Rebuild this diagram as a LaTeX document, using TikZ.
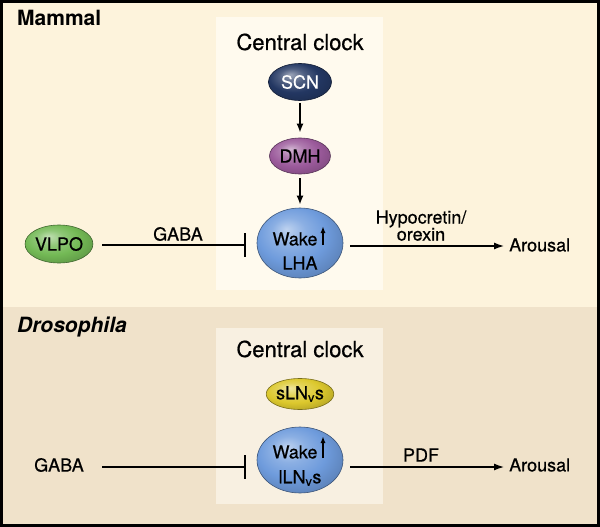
\documentclass[tikz,border=0pt]{standalone}
\usepackage{fontspec}
\setmainfont{TeX Gyre Heros}
\newfontfamily\medfont{TeX Gyre Heros}[FakeBold=0.6]
\usetikzlibrary{shapes.geometric,arrows.meta}

\definecolor{topbg}{RGB}{253,243,220}
\definecolor{topin}{RGB}{255,250,238}
\definecolor{botbg}{RGB}{240,226,202}
\definecolor{botin}{RGB}{248,240,225}
\definecolor{scncol}{RGB}{35,55,98}
\definecolor{dmhcol}{RGB}{155,90,155}
\definecolor{vlpocol}{RGB}{115,185,85}
\definecolor{lhacol}{RGB}{110,155,220}
\definecolor{slncol}{RGB}{220,200,45}

\colorlet{basecol}{blue}
\pgfdeclareradialshading[basecol]{softball}{\pgfpoint{-8bp}{10bp}}{%
  color(0bp)=(basecol!45!white); color(10bp)=(basecol!80!white);
  color(20bp)=(basecol); color(30bp)=(basecol!85!black); color(50bp)=(basecol!65!black)}

\tikzset{
  cell/.style={ellipse, draw=#1!55!black, line width=0.6pt, inner sep=0pt,
    /utils/exec={\colorlet{basecol}{#1}}, shading=softball},
  lbl/.style={font=\medfont\fontsize{18}{17}\selectfont, inner sep=0pt},
  head/.style={font=\fontsize{21}{24}\selectfont\bfseries, inner sep=0pt, anchor=base west},
  clocktitle/.style={font=\medfont\fontsize{22}{25}\selectfont, inner sep=0pt, anchor=base},
  conn/.style={line width=2.2pt},
  arr/.style={conn, -{Latex[length=11pt,width=7pt]}},
  varr/.style={conn, -{Latex[length=9pt,width=7pt]}},
  inhib/.style={conn, -{Bar[width=24pt,line width=2.2pt]}},
  uparr/.style={line width=1.6pt, -{Latex[length=7pt,width=5pt]}},
}

\begin{document}
\begin{tikzpicture}[x=1pt,y=-1pt]
\useasboundingbox (0,0) rectangle (600,527);
% panels
\fill[topbg] (0,0) rectangle (600,307);
\fill[botbg] (0,307) rectangle (600,527);
\fill[topin] (216,17) rectangle (383,290);
\fill[botin] (216,328) rectangle (383,504);
\draw[line width=3pt] (1.5,1.5) rectangle (598.5,525.5);

% headers
\node[head] (mammal) at (17,26) {Mammal};
\node[head, font=\fontsize{21}{24}\selectfont\bfseries\itshape] (dros) at (17,332) {Drosophila};
\node[clocktitle] (cc1) at (300,50) {Central clock};
\node[clocktitle] (cc2) at (300,357) {Central clock};

% ---- Mammal ----
\node[cell=scncol, minimum width=63pt, minimum height=37pt, lbl, text=white] (scn) at (300,82) {SCN};
\node[cell=dmhcol, minimum width=61pt, minimum height=36pt, lbl] (dmh) at (300,156) {DMH};
\node[cell=lhacol, minimum width=86pt, minimum height=70pt] (lha) at (300,243) {};
\node[lbl] (wake1) at (295,239) {Wake};
\node[lbl] (lhat) at (300,263) {LHA};
\coordinate (up1a) at (323,245);
\coordinate (up1b) at (323,226);
\draw[uparr] (up1a) -- (up1b);
\node[cell=vlpocol, minimum width=60pt, minimum height=38pt, lbl] (vlpo) at (59,244) {VLPO};

\draw[varr, shorten <=2pt, shorten >=5pt] (scn) -- (dmh);
\draw[varr, shorten <=4pt, shorten >=3pt] (dmh) -- (lha);

\coordinate (g1s) at (102,245);
\coordinate (g1e) at (246,245);
\draw[inhib] (g1s) -- (g1e);
\node[lbl] (gaba1) at (178,234) {GABA};

\coordinate (h1s) at (350,246);
\node[lbl, anchor=west] (arousal1) at (509,245) {Arousal};
\draw[arr, shorten >=4pt] (h1s) -- (h1s -| arousal1.west);
\node[lbl, align=center, anchor=south] (hypo) at (421,241) {Hypocretin/\\orexin};

% ---- Drosophila ----
\node[cell=slncol, minimum width=62pt, minimum height=31pt, lbl] (sln) at (300,394) {sLN\textsubscript{v}s};
\node[cell=lhacol, minimum width=86pt, minimum height=66pt] (lln) at (300,460) {};
\node[lbl] (wake2) at (295,452) {Wake};
\node[lbl] (llnt) at (300,478) {lLN\textsubscript{v}s};
\coordinate (up2a) at (323,458);
\coordinate (up2b) at (323,436);
\draw[uparr] (up2a) -- (up2b);

\node[lbl] (gaba2) at (59,465) {GABA};
\coordinate (g2s) at (102,467);
\coordinate (g2e) at (246,467);
\draw[inhib] (g2s) -- (g2e);

\coordinate (p2s) at (350,467);
\node[lbl, anchor=west] (arousal2) at (509,465) {Arousal};
\draw[arr, shorten >=4pt] (p2s) -- (p2s -| arousal2.west);
\node[lbl] (pdf) at (421,455) {PDF};
\end{tikzpicture}
\end{document}
